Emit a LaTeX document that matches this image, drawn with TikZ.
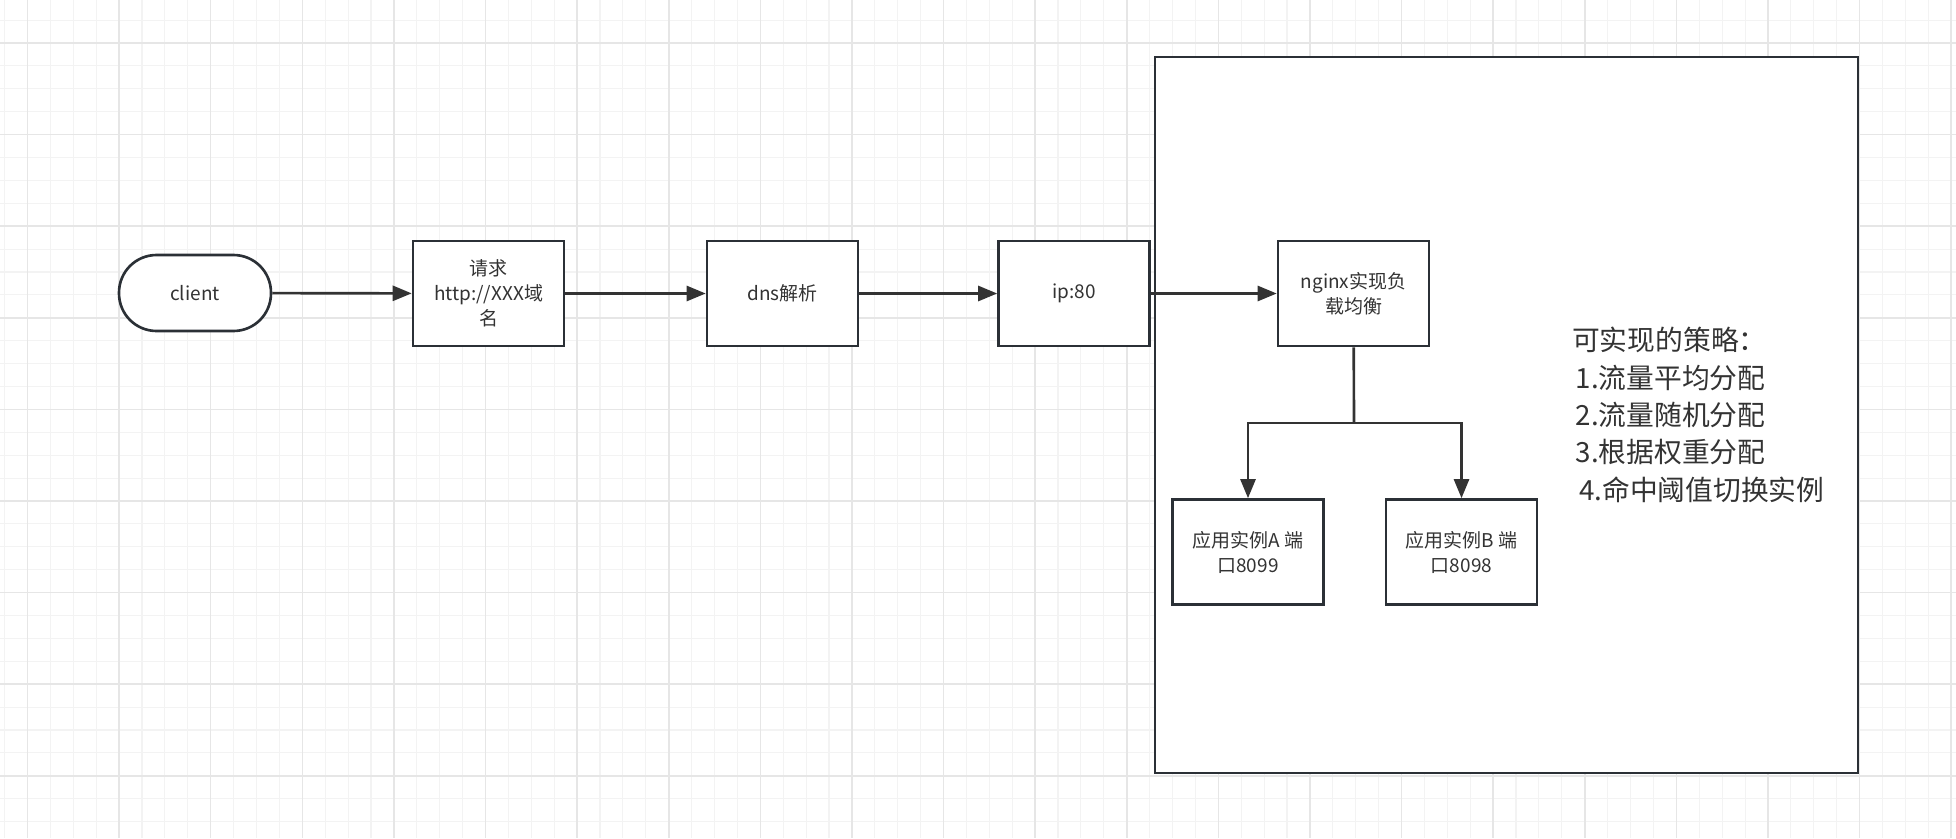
\documentclass[tikz,border=0pt]{standalone}
\usepackage{fontspec}
\setmainfont{Noto Sans CJK SC}
\usepackage{tikz}
\usetikzlibrary{arrows.meta,positioning,calc}
\usepackage{xcolor}
\definecolor{edge}{HTML}{2B3036}
\definecolor{ink}{HTML}{333333}
\definecolor{gridminor}{HTML}{F3F3F3}
\definecolor{gridmajor}{HTML}{E6E6E6}

\begin{document}
\begin{tikzpicture}[x=0.02cm, y=-0.02cm,
  box/.style={draw=edge, line width=1.5pt, fill=white, text=ink,
    minimum width=3.02cm, minimum height=2.1cm, align=center,
    font=\fontsize{10.8}{14.2}\selectfont},
  term/.style={box, minimum width=3.04cm, minimum height=1.52cm,
    rounded corners=0.75cm},
  arr/.style={draw=ink, line width=1.5pt,
    -{Triangle[length=0.38cm, width=0.3cm]}},
  link/.style={draw=ink, line width=1.5pt}]

\useasboundingbox (0,0) rectangle (1956,838);
\fill[white] (0,0) rectangle (1956,838);

% background grid
\foreach \i in {0,...,86}
  \draw[gridminor, line width=0.6pt] (4.6+\i*22.9,0) -- (4.6+\i*22.9,838);
\foreach \i in {0,...,37}
  \draw[gridminor, line width=0.6pt] (0,-2.8+\i*22.9) -- (1956,-2.8+\i*22.9);
\foreach \i in {0,...,21}
  \draw[gridmajor, line width=0.9pt] (27.5+\i*91.6,0) -- (27.5+\i*91.6,838);
\foreach \i in {0,...,9}
  \draw[gridmajor, line width=0.9pt] (0,43+\i*91.6) -- (1956,43+\i*91.6);

% container
\node[draw=edge, line width=1.5pt, fill=white, minimum width=14.06cm,
  minimum height=14.32cm] (frame) at (1506.5,415) {};

\node[term] (client) at (195,293) {client};
\node[box] (req) at (488.5,293.5) {请求\\http://XXX域\\名};
\node[box] (dns) at (782.5,293.5) {dns解析};
\node[box] (ip) at (1074,293.5) {ip:80};
\node[box] (nginx) at (1353.5,293.5) {nginx实现负\\载均衡};
\node[box] (instA) at (1248,552) {应用实例A 端\\口8099};
\node[box] (instB) at (1461.5,552) {应用实例B 端\\口8098};

\node[anchor=north west, align=left, text=ink,
  font=\fontsize{15.8}{21.3}\selectfont] (plan) at (1566,321)
  {可实现的策略：\\
   \hspace{2pt}1.流量平均分配\\
   \hspace{2pt}2.流量随机分配\\
   \hspace{2pt}3.根据权重分配\\
   \hspace{4pt}4.命中阈值切换实例};

\draw[arr] (client) -- (req);
\draw[arr] (req) -- (dns);
\draw[arr] (dns) -- (ip);
\draw[arr] (ip) -- (nginx);

\coordinate (fork) at (1354,423);
\draw[link] (nginx) -- (fork);
\draw[arr] (fork) -| (instA);
\draw[arr] (fork) -| (instB);
\end{tikzpicture}
\end{document}
